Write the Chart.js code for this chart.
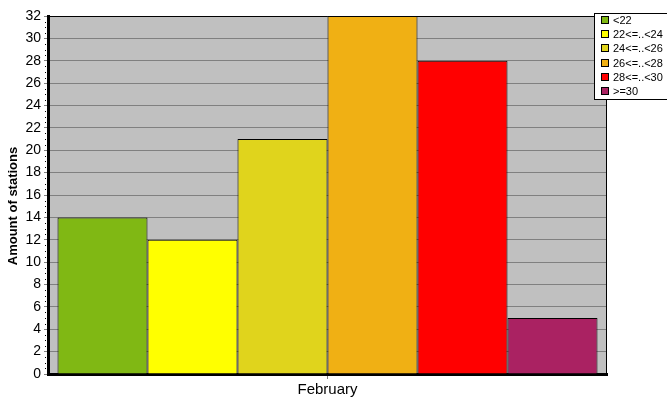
<!DOCTYPE html>
<html>
<head>
  <meta charset="UTF-8">
  <title>Amount of stations</title>
  <script src="https://cdn.jsdelivr.net/npm/chart.js@4.4.4/dist/chart.umd.min.js"></script>
  <style>
    html, body { margin: 0; padding: 0; background: #fff; }
    #wrap { width: 667px; height: 415px; position: relative; }
  </style>
</head>
<body>
<div id="wrap"><canvas id="chart" width="667" height="415"></canvas></div>

<script>
  // —— data ————————————————————————————————————————
  const categories = ['February'];
  const classLabels = ['<22', '22<=..<24', '24<=..<26', '26<=..<28', '28<=..<30', '>=30'];
  const stationCounts = [14, 12, 21, 32, 28, 5];
  const classColors = ['#80B814', '#FFFF00', '#E0D41C', '#F0B014', '#FF0000', '#AA2262'];
  const yTicks = [0, 2, 4, 6, 8, 10, 12, 14, 16, 18, 20, 22, 24, 26, 28, 30, 32];
  const yTitle = 'Amount of stations';

  const FONT = 'Liberation Sans, DejaVu Sans, sans-serif';

  // grey plot area + thin top/right border + minor ticks + y title
  const plotDecor = {
    id: 'plotDecor',
    beforeDraw(chart) {
      const { ctx, chartArea: a } = chart;
      ctx.save();
      ctx.fillStyle = '#C0C0C0';
      ctx.fillRect(a.left, a.top, a.right - a.left, a.bottom - a.top);
      ctx.restore();
    },
    afterDraw(chart) {
      const { ctx, chartArea: a, scales } = chart;
      ctx.save();
      ctx.strokeStyle = '#000';
      ctx.lineWidth = 1;
      ctx.beginPath();
      ctx.moveTo(a.left, a.top + 0.5);
      ctx.lineTo(a.right - 0.5, a.top + 0.5);
      ctx.lineTo(a.right - 0.5, a.bottom);
      ctx.stroke();
      // minor ticks every 0.5
      ctx.fillStyle = '#000';
      const y = scales.y;
      for (let v = 0.5; v < y.max; v += 0.5) {
        if (v % 2 === 0) continue;
        const py = Math.round(y.getPixelForValue(v));
        ctx.fillRect(a.left - 3, py, 1, 1);
      }
      // axis title, sits a bit below the plot centre like the original
      ctx.translate(13, 206);
      ctx.rotate(-Math.PI / 2);
      ctx.font = 'bold 13px ' + FONT;
      ctx.textAlign = 'center';
      ctx.textBaseline = 'middle';
      ctx.fillText(yTitle, 0, 0);
      ctx.restore();
    }
  };

  // legend box at top right, built from the datasets
  const boxLegend = {
    id: 'boxLegend',
    afterDraw(chart) {
      const { ctx } = chart;
      const x0 = 594, y0 = 13, w = 74, h = 87, rowH = 14.2;
      ctx.save();
      ctx.fillStyle = '#fff';
      ctx.fillRect(x0, y0, w, h);
      ctx.strokeStyle = '#000';
      ctx.lineWidth = 1;
      ctx.strokeRect(x0 + 0.5, y0 + 0.5, w - 1, h - 1);
      ctx.font = '11px ' + FONT;
      ctx.textBaseline = 'middle';
      chart.data.datasets.forEach((ds, i) => {
        const cy = Math.round(y0 + 7 + i * rowH);
        ctx.fillStyle = ds.backgroundColor;
        ctx.fillRect(x0 + 7, cy - 4, 8, 8);
        ctx.strokeStyle = '#000';
        ctx.strokeRect(x0 + 7.5, cy - 3.5, 7, 7);
        ctx.fillStyle = '#000';
        ctx.fillText(ds.label, x0 + 19, cy + 0.5);
      });
      ctx.restore();
    }
  };

  new Chart(document.getElementById('chart'), {
    type: 'bar',
    data: {
      labels: categories,
      datasets: classLabels.map((lab, i) => ({
        label: lab,
        data: [stationCounts[i]],
        backgroundColor: classColors[i],
        borderColor: '#000',
        borderWidth: 1,
        borderSkipped: 'bottom',
        barPercentage: 1,
        categoryPercentage: 0.966
      }))
    },
    options: {
      responsive: false,
      animation: false,
      devicePixelRatio: 1,
      layout: { padding: { top: 16, right: 60, left: 0, bottom: 0 } },
      plugins: {
        legend: { display: false },
        tooltip: { enabled: false }
      },
      scales: {
        x: {
          grid: { display: true, drawOnChartArea: false, drawTicks: true, tickLength: 5, color: '#808080', offset: false },
          border: { display: true, color: '#000', width: 3 },
          ticks: { color: '#000', font: { family: FONT, size: 15 }, padding: 2 },
          afterFit: s => { s.height = 41; }
        },
        y: {
          min: 0,
          max: 32,
          afterBuildTicks: s => { s.ticks = yTicks.map(v => ({ value: v })); },
          grid: { color: '#808080', lineWidth: 1, tickLength: 4, drawTicks: true },
          border: { display: true, color: '#000', width: 3 },
          ticks: { color: '#000', font: { family: FONT, size: 14 }, padding: 3 },
          afterFit: s => { s.width = 48; }
        }
      }
    },
    plugins: [plotDecor, boxLegend]
  });
</script>
</body>
</html>
